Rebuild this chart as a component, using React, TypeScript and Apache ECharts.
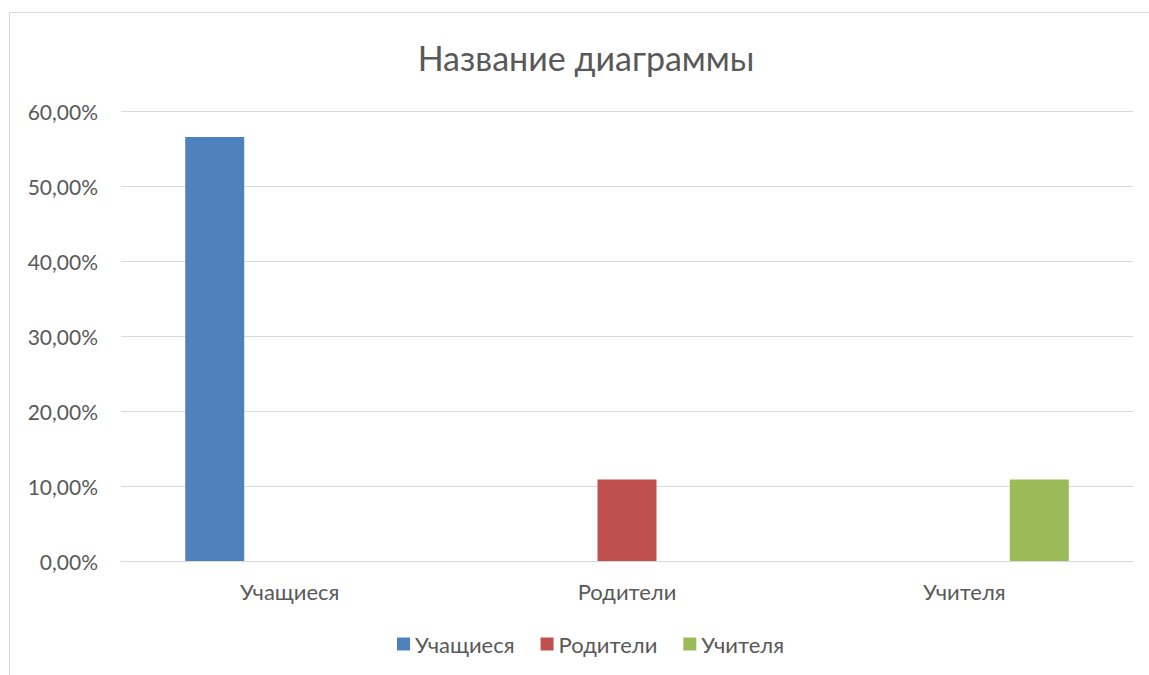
import React, { useEffect, useRef } from "react";
import * as echarts from "echarts";

const categories = ["Учащиеся", "Родители", "Учителя"];
const seriesNames = ["Учащиеся", "Родители", "Учителя"];
const studentsValues = [56.52, null, null];
const parentsValues = [null, 10.87, null];
const teachersValues = [null, null, 10.87];
const seriesColors = ["#4f81bd", "#c0504d", "#9bbb59"];
const titleText = "Название диаграммы";

const FONT = "Lato, 'Noto Sans', sans-serif";
const TEXT = "#595959";

export default function App() {
  const ref = useRef<HTMLDivElement>(null);
  useEffect(() => {
    if (!ref.current) return;
    const chart = echarts.init(ref.current, null, { renderer: "svg" });
    const seriesData = [studentsValues, parentsValues, teachersValues];
    chart.setOption({
      animation: false,
      backgroundColor: "#ffffff",
      textStyle: { fontFamily: FONT, color: TEXT },
      graphic: [
        {
          type: "rect",
          shape: { x: 9.5, y: 12.5, width: 1300, height: 800 },
          style: { fill: "none", stroke: "#d9d9d9", lineWidth: 1 },
          silent: true,
        },
        {
          type: "text",
          x: 586,
          y: 57,
          style: {
            text: titleText,
            fontFamily: FONT,
            fontSize: 34,
            fill: TEXT,
            align: "center",
            verticalAlign: "middle",
          },
          silent: true,
        },
      ],
      legend: {
        top: 628,
        left: 392,
        padding: 5,
        itemWidth: 13,
        itemHeight: 13,
        itemGap: 26,
        icon: "rect",
        textStyle: { fontFamily: FONT, fontSize: 22, color: TEXT },
        data: seriesNames,
      },
      grid: { left: 121, right: 16, top: 111, bottom: 114, containLabel: false },
      xAxis: {
        type: "category",
        data: categories,
        axisLine: { show: true, lineStyle: { color: "#d9d9d9", width: 1 } },
        axisTick: { show: false },
        axisLabel: { fontFamily: FONT, fontSize: 22, color: TEXT, margin: 19 },
      },
      yAxis: {
        type: "value",
        min: 0,
        max: 60,
        interval: 10,
        axisLine: { show: false },
        axisTick: { show: false },
        splitLine: { lineStyle: { color: "#d9d9d9", width: 1 } },
        axisLabel: {
          fontFamily: FONT,
          fontSize: 21,
          color: TEXT,
          margin: 23,
          formatter: (v: number) => v.toFixed(2).replace(".", ",") + "%",
        },
      },
      series: seriesNames.map((name, i) => ({
        name,
        type: "bar",
        data: seriesData[i],
        barWidth: 59,
        barGap: "27%",
        itemStyle: { color: seriesColors[i] },
      })),
    });
    return () => chart.dispose();
  }, []);
  return <div ref={ref} style={{ width: 1149, height: 675, position: "absolute", left: 0, top: 0 }} />;
}
